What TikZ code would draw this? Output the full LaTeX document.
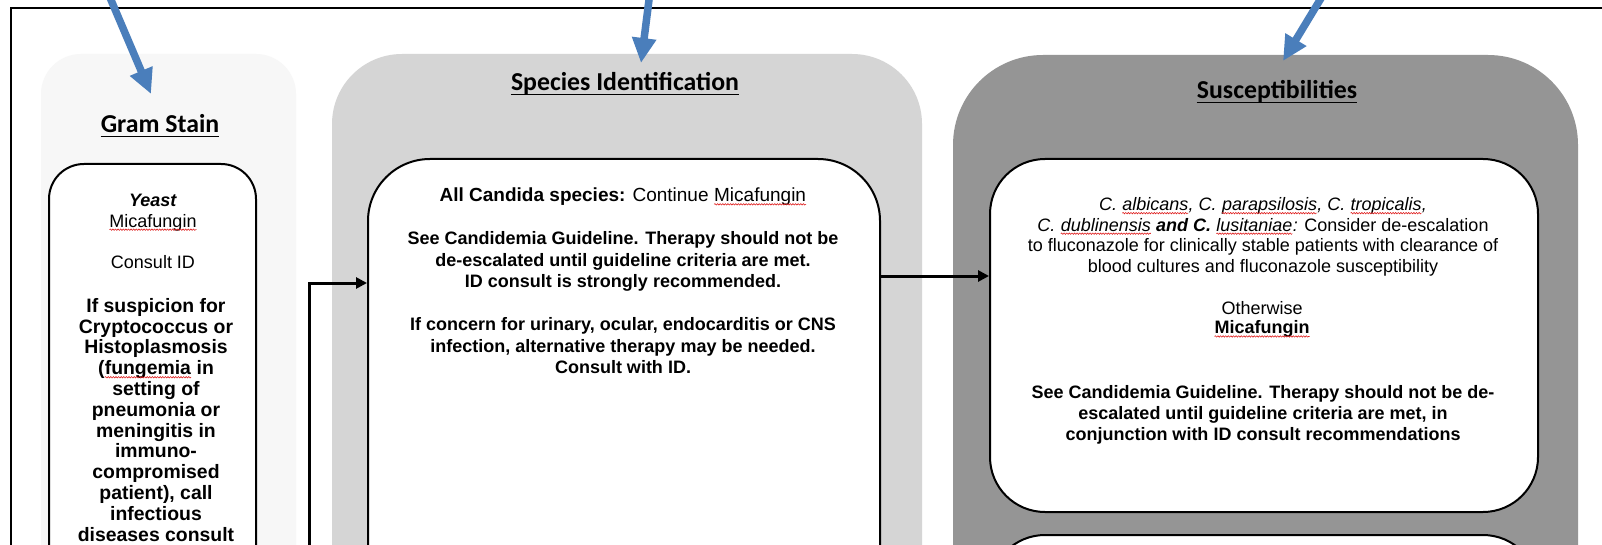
\documentclass[tikz,border=0pt]{standalone}
\usepackage{fontspec}
\setmainfont{Liberation Sans}
\newfontfamily\titlefont{Carlito}
\usetikzlibrary{arrows.meta,decorations.pathmorphing}
\definecolor{arrowblue}{HTML}{4A7EBB}
\definecolor{panelA}{HTML}{F7F7F7}
\definecolor{panelB}{HTML}{D5D5D5}
\definecolor{panelC}{HTML}{959595}
\definecolor{squig}{HTML}{E02020}
\newcommand\sqw[1]{\tikz[baseline=(sqw.base)]{\node[inner sep=0pt,outer sep=0pt,anchor=base,draw=none,fill=none](sqw){#1};\draw[squig,line width=0.6pt,decorate,decoration={snake,amplitude=0.7pt,segment length=2.6pt}]([yshift=-2.6pt]sqw.base west)--([yshift=-2.6pt]sqw.base east);}}
\begin{document}
\begin{tikzpicture}[x=1pt,y=-1pt,
  ibox/.style={draw=black,line width=2pt,fill=white,rounded corners=#1,inner sep=0pt,anchor=north west},
  ttl/.style={font=\titlefont\bfseries\fontsize{25.8}{30}\selectfont,inner sep=0pt,anchor=base},
  body/.style={font=\fontsize{18}{#1}\selectfont,align=center,inner sep=0pt,anchor=north},
  bigbody/.style={font=\bfseries\fontsize{19.4}{20.8}\selectfont,align=center,inner sep=0pt,anchor=north},
  conn/.style={line width=3pt,-{Triangle[length=11pt,width=11pt]}},
  bluearrow/.style={draw=arrowblue,line width=7.5pt,-{Triangle[length=25pt,width=23pt]}},
  uline/.style={line width=1.8pt}
]
\useasboundingbox (0,0) rectangle (1602,545);
\clip (0,0) rectangle (1602,545);
\fill[white] (0,0) rectangle (1602,545);
% outer frame
\draw[line width=2.5pt] (11,8) rectangle (1660,620);
% panels
\fill[panelA,rounded corners=40pt] (41,54) rectangle (296,700);
\fill[panelB,rounded corners=70pt] (332,54) rectangle (922,700);
\fill[panelC,rounded corners=90pt] (953,55) rectangle (1578,700);
% titles
\node[ttl] (tg) at (160,133) {Gram Stain};
\node[ttl] (ts) at (625,91) {Species Identification};
\node[ttl] (tu) at (1277,99) {Susceptibilities};
\foreach \t in {tg,ts,tu}{\draw[uline] ([yshift=-3.5pt]\t.base west) -- ([yshift=-3.5pt]\t.base east);}
% boxes
\node[ibox=35pt,minimum width=207pt,minimum height=500pt] (gbox) at (48,163) {};
\node[ibox=62pt,minimum width=512pt,minimum height=500pt] (sbox) at (367,158) {};
\node[ibox=55pt,minimum width=548pt,minimum height=353pt] (ubox1) at (989,158) {};
\node[ibox=55pt,minimum width=548pt,minimum height=200pt] (ubox2) at (989,534) {};
% texts
\node[body=20.8pt] (gtext) at (153,191.5) {\strut\textbf{\textit{Yeast}}\\
\sqw{Micafungin}\\[20.8pt]
Consult ID};
\node[bigbody] (gtext2) at (156,297.5) {\strut If suspicion for\\
Cryptococcus or\\
Histoplasmosis\\
(\sqw{fungemia} in\\
setting of\\
pneumonia or\\
meningitis in\\
immuno-\\
compromised\\
patient), call\\
infectious\\
diseases consult};
\node[body=21.5pt] (stext) at (623,186.5) {\strut{\fontsize{19}{21.5}\selectfont\textbf{All Candida species:} Continue \sqw{Micafungin}}\\[21.5pt]
\textbf{See Candidemia Guideline. Therapy should not be}\\
\textbf{de-escalated until guideline criteria are met.}\\
\textbf{ID consult is strongly recommended.}\\[21.5pt]
\textbf{If concern for urinary, ocular, endocarditis or CNS}\\
\textbf{infection, alternative therapy may be needed.}\\
\textbf{Consult with ID.}};
\node[body=20.5pt] (utextA) at (1263,196) {\strut\textit{C. \sqw{albicans}, C. \sqw{parapsilosis}, C. \sqw{tropicalis},}\\
\textit{C. \sqw{dublinensis} \textbf{and C.} \sqw{lusitaniae}:} Consider de-escalation\\
to fluconazole for clinically stable patients with clearance of\\
blood cultures and fluconazole susceptibility};
\node[body=19.5pt] (utextB) at (1262,300.5) {\strut Otherwise\\ \textbf{\sqw{Micafungin}}};
\node[body=21pt] (utextC) at (1263,383.5) {\strut\textbf{See Candidemia Guideline. Therapy should not be de-}\\
\textbf{escalated until guideline criteria are met, in}\\
\textbf{conjunction with ID consult recommendations}};
% connectors
\coordinate (gsrc) at (309,560);
\coordinate (gturn) at (309,283);
\draw[conn] (gsrc) -- (gturn) -- (gturn -| sbox.west);
\coordinate (lvl) at (0,276);
\draw[conn] (lvl -| sbox.east) -- (lvl -| ubox1.west);
% blue arrows
\coordinate (b1s) at (107.6,-8); \coordinate (b1e) at (151,94);
\coordinate (b2s) at (650,-8); \coordinate (b2e) at (641,63);
\coordinate (b3s) at (1324.8,-8); \coordinate (b3e) at (1283,61);
\draw[bluearrow] (b1s) -- (b1e);
\draw[bluearrow] (b2s) -- (b2e);
\draw[bluearrow] (b3s) -- (b3e);
\end{tikzpicture}
\end{document}
